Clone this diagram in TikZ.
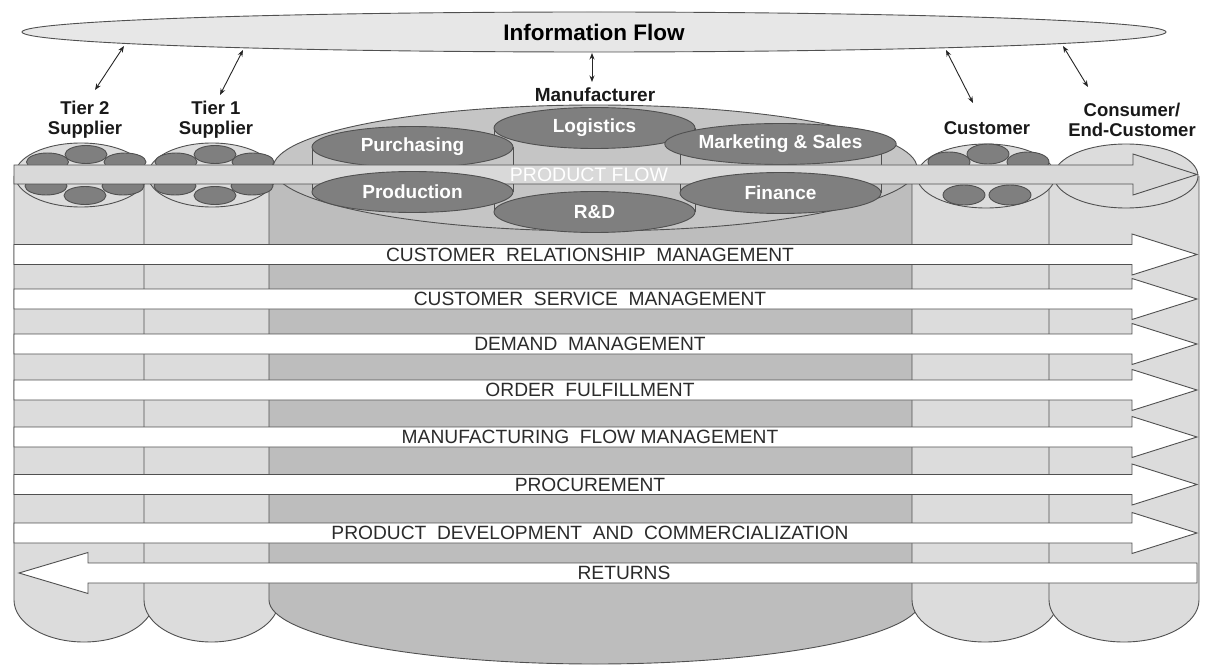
\documentclass[tikz,border=0pt]{standalone}
\usepackage{fontspec}
\setmainfont{Liberation Sans}
\usetikzlibrary{shapes.geometric,arrows.meta}
\definecolor{colLight}{HTML}{DCDCDC}
\definecolor{colMid}{HTML}{BDBDBD}
\definecolor{colInner}{HTML}{C5C5C5}
\definecolor{colCell}{HTML}{7F7F7F}
\definecolor{colInfo}{HTML}{E7E7E7}
\definecolor{colFlow}{HTML}{D9D9D9}
\definecolor{colLine}{HTML}{505050}
\definecolor{colText}{HTML}{2B2B2B}
\begin{document}
\begin{tikzpicture}[x=1pt,y=-1pt,
  outline/.style={draw=colLine,line width=0.9pt},
  lightbody/.style={outline,fill=colLight},
  midbody/.style={outline,fill=colMid},
  innerbody/.style={outline,fill=colInner},
  cell/.style={outline,fill=colCell},
  unit/.style={ellipse,cell,inner sep=0pt,minimum width=201pt,minimum height=41pt,
    text=white,font=\fontsize{19}{21}\selectfont\bfseries},
  procband/.style={outline,fill=white},
  flowband/.style={outline,fill=colFlow},
  heading/.style={font=\fontsize{18.5}{20}\selectfont\bfseries,text=black!90,align=center,inner sep=0pt},
  proclabel/.style={font=\fontsize{19.2}{21}\selectfont,text=colText,inner sep=0pt},
  link/.style={draw=black!85,line width=0.9pt,{Stealth[length=6.5pt,width=5pt]}-{Stealth[length=6.5pt,width=5pt]}},
]
\fill[white] (0,0) rectangle (1211,666);
\useasboundingbox (0,0) rectangle (1211,666);

% information flow
\node[ellipse,outline,fill=colInfo,minimum width=1144pt,minimum height=40pt,inner sep=0pt,
  font=\fontsize{22.5}{24}\selectfont\bfseries] (info) at (594,32) {Information Flow};

% cylinder bodies, drawn left to right so each overlaps the previous one
\path[lightbody] (14,176) -- (14,600) arc[start angle=180,end angle=360,x radius=70pt,y radius=42pt] -- (154,176);
\path[lightbody] (144,176) -- (144,600) arc[start angle=180,end angle=360,x radius=67.5pt,y radius=42pt] -- (279,176);
\path[midbody] (269,168) -- (269,600) arc[start angle=180,end angle=360,x radius=326pt,y radius=64pt] -- (921,168);
\path[lightbody] (912,176) -- (912,600) arc[start angle=180,end angle=360,x radius=73pt,y radius=42pt] -- (1058,176);
\path[lightbody] (1049,176) -- (1049,600) arc[start angle=180,end angle=360,x radius=75pt,y radius=42pt] -- (1199,176);

% cylinder tops
\draw[lightbody] (81,175) ellipse [x radius=66pt,y radius=32pt];
\draw[lightbody] (212,175) ellipse [x radius=64pt,y radius=32pt];
\draw[lightbody] (986,176) ellipse [x radius=69pt,y radius=32pt];
\draw[lightbody] (1126,176) ellipse [x radius=72pt,y radius=32pt];

% member firms on the supplier and customer tops
\foreach \cx/\cy in {47.5/162, 125/162, 86/154.5, 46/186, 123/186, 85/195.5,
                     176/162, 253/162, 215/154.5, 175/186, 252/186, 215/195.5}
  \draw[cell] (\cx,\cy) ellipse [x radius=21pt,y radius=9pt];
\foreach \cx/\cy in {949/162, 1028/162, 988/154, 964/195, 1010/195}
  \draw[cell] (\cx,\cy) ellipse [x radius=21pt,y radius=10pt];

% manufacturer top with its functions
\draw[innerbody] (595,168) ellipse [x radius=322pt,y radius=63pt];
\fill[colInner] (494,128) rectangle (695,212);
\draw[outline] (494,128) -- (494,212) (695,128) -- (695,212);
\node[unit] (logi) at (594.5,128) {Logistics};
\node[unit] (rnd) at (594.5,212) {R\&D};
\fill[colInner] (312,147) rectangle (513,192);
\draw[outline] (312,147) -- (312,192) (513,147) -- (513,192);
\node[unit] (purch) at (412.5,147) {Purchasing};
\fill[colInner] (680,144) rectangle (881,193);
\draw[outline] (680,144) -- (680,193) (881,144) -- (881,193);
\node[unit] (mkt) at (780.5,144) {Marketing \& Sales};

% product flow
\draw[flowband] (14,165) -- (1133,165) -- (1133,154) -- (1197,174.5) -- (1133,195) -- (1133,184) -- (14,184) -- cycle;
\node[proclabel,text=white,font=\fontsize{19.5}{21}\selectfont] (pflow) at (589,174.5) {PRODUCT FLOW};

\node[unit] (prod) at (412.5,192) {Production};
\node[unit] (fin) at (780.5,193) {Finance};

% business processes
\foreach \yc/\nm/\txt in {
    254.5/crm/{CUSTOMER~ RELATIONSHIP~ MANAGEMENT},
    299/csm/{CUSTOMER~ SERVICE~ MANAGEMENT},
    344/dem/{DEMAND~ MANAGEMENT},
    390/ord/{ORDER~ FULFILLMENT},
    437/mfm/{MANUFACTURING~ FLOW MANAGEMENT},
    484.5/proc/{PROCUREMENT},
    533/pdc/{PRODUCT~ DEVELOPMENT~ AND~ COMMERCIALIZATION}} {
  \draw[procband] (14,\yc-10) -- (1132,\yc-10) -- (1132,\yc-20.5) -- (1197,\yc)
    -- (1132,\yc+20.5) -- (1132,\yc+10) -- (14,\yc+10) -- cycle;
  \node[proclabel] (\nm) at (590,\yc) {\txt};
}
\draw[procband] (1197,563) -- (88,563) -- (88,552.5) -- (19,573) -- (88,593.5) -- (88,583) -- (1197,583) -- cycle;
\node[proclabel] (ret) at (624,573) {RETURNS};

% member labels
\node[heading] (lblT2) at (85,120) {Tier 2\\Supplier};
\node[heading] (lblT1) at (216,120) {Tier 1\\Supplier};
\node[heading,font=\fontsize{19}{20}\selectfont\bfseries] (lblMan) at (595,95) {Manufacturer};
\node[heading] (lblCust) at (987,128) {Customer};
\node[heading] (lblCons) at (1132,120) {Consumer/\\End-Customer};

% information exchange with each member
\coordinate (infT2) at (124,46);   \coordinate (tipT2) at (95,90);
\coordinate (infT1) at (243,50);   \coordinate (tipT1) at (220,95);
\coordinate (infMan) at (592,53);  \coordinate (tipMan) at (592,82);
\coordinate (infCust) at (946,50); \coordinate (tipCust) at (973,103);
\coordinate (infCons) at (1063,46);\coordinate (tipCons) at (1088,87);
\draw[link] (infT2) -- (tipT2);
\draw[link] (infT1) -- (tipT1);
\draw[link] (infMan) -- (tipMan);
\draw[link] (infCust) -- (tipCust);
\draw[link] (infCons) -- (tipCons);
\end{tikzpicture}
\end{document}
